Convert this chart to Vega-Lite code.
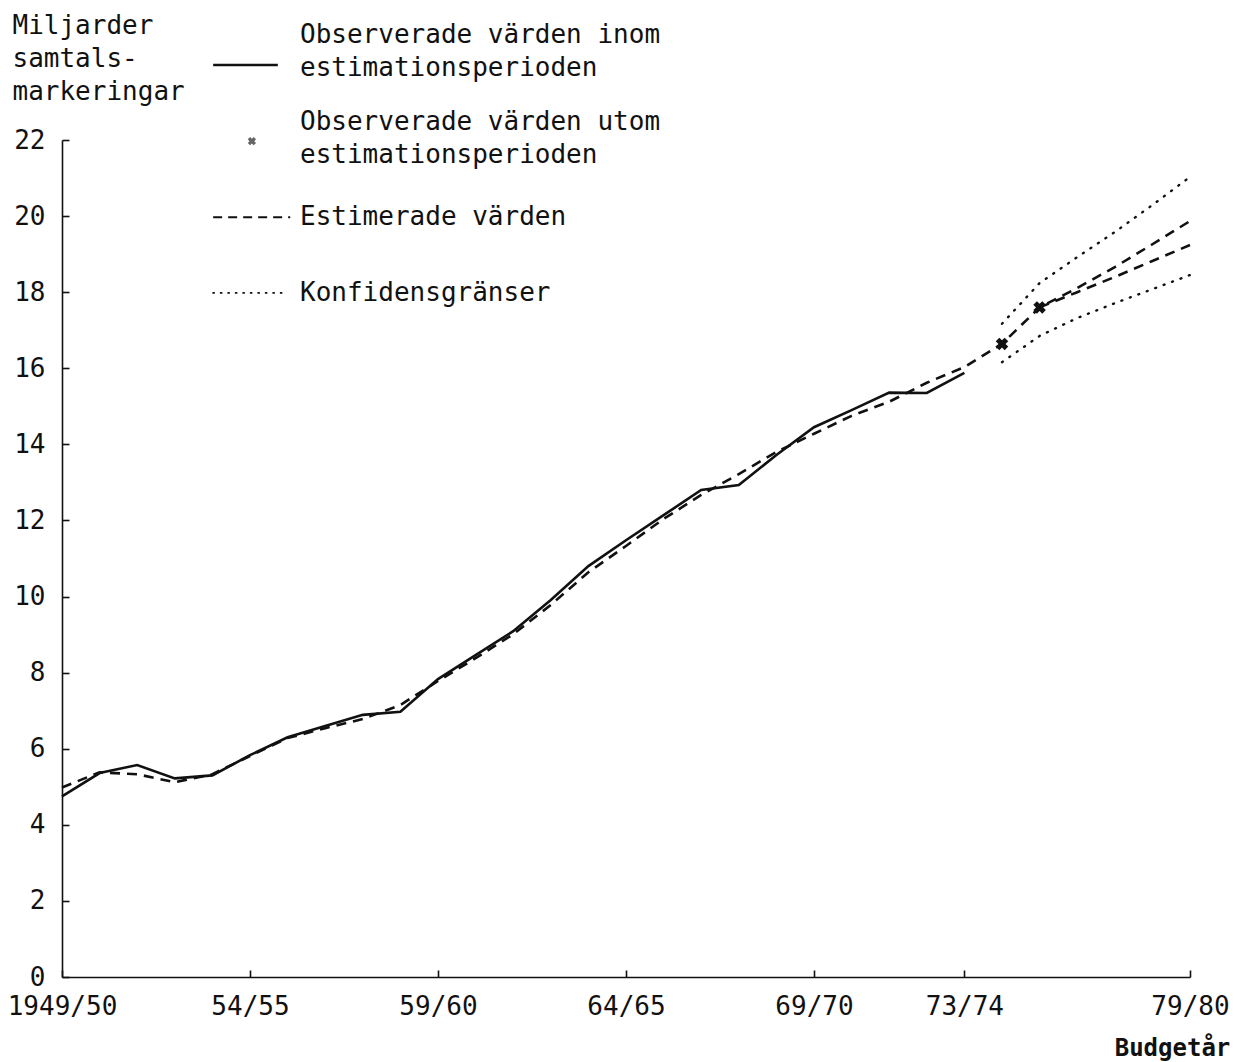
{
  "$schema": "https://vega.github.io/schema/vega-lite/v6.json",
  "width": 1128,
  "height": 837,
  "autosize": {"type": "none"},
  "padding": {"left": 62, "top": 140, "right": 53, "bottom": 85},
  "background": "white",
  "config": {
    "view": {"stroke": null},
    "font": "DejaVu Sans Mono",
    "axis": {"grid": false, "domainColor": "#111", "tickColor": "#111", "labelColor": "#111", "titleColor": "#111", "labelFont": "DejaVu Sans Mono", "titleFont": "DejaVu Sans Mono", "labelFontSize": 26, "titleFontSize": 26, "titleFontWeight": "normal", "domainWidth": 1.6, "tickWidth": 1.6}
  },
  "datasets": {
    "series": [
      {"s": "obs", "i": 0, "v": 4.75}, {"s": "obs", "i": 1, "v": 5.36}, {"s": "obs", "i": 2, "v": 5.57}, {"s": "obs", "i": 3, "v": 5.22}, {"s": "obs", "i": 4, "v": 5.3},
      {"s": "obs", "i": 5, "v": 5.83}, {"s": "obs", "i": 6, "v": 6.3}, {"s": "obs", "i": 7, "v": 6.6}, {"s": "obs", "i": 8, "v": 6.89}, {"s": "obs", "i": 9, "v": 6.97},
      {"s": "obs", "i": 10, "v": 7.83}, {"s": "obs", "i": 11, "v": 8.46}, {"s": "obs", "i": 12, "v": 9.09}, {"s": "obs", "i": 13, "v": 9.91}, {"s": "obs", "i": 14, "v": 10.8},
      {"s": "obs", "i": 15, "v": 11.48}, {"s": "obs", "i": 16, "v": 12.14}, {"s": "obs", "i": 17, "v": 12.8}, {"s": "obs", "i": 18, "v": 12.93}, {"s": "obs", "i": 19, "v": 13.72},
      {"s": "obs", "i": 20, "v": 14.45}, {"s": "obs", "i": 21, "v": 14.9}, {"s": "obs", "i": 22, "v": 15.36}, {"s": "obs", "i": 23, "v": 15.35}, {"s": "obs", "i": 24, "v": 15.88},
      {"s": "est", "i": 0, "v": 4.98}, {"s": "est", "i": 1, "v": 5.38}, {"s": "est", "i": 2, "v": 5.33}, {"s": "est", "i": 3, "v": 5.12}, {"s": "est", "i": 4, "v": 5.33},
      {"s": "est", "i": 5, "v": 5.81}, {"s": "est", "i": 6, "v": 6.28}, {"s": "est", "i": 7, "v": 6.54}, {"s": "est", "i": 8, "v": 6.78}, {"s": "est", "i": 9, "v": 7.15},
      {"s": "est", "i": 10, "v": 7.78}, {"s": "est", "i": 11, "v": 8.38}, {"s": "est", "i": 12, "v": 9.01}, {"s": "est", "i": 13, "v": 9.78}, {"s": "est", "i": 14, "v": 10.64},
      {"s": "est", "i": 15, "v": 11.33}, {"s": "est", "i": 16, "v": 12.04}, {"s": "est", "i": 17, "v": 12.67}, {"s": "est", "i": 18, "v": 13.22}, {"s": "est", "i": 19, "v": 13.8},
      {"s": "est", "i": 20, "v": 14.28}, {"s": "est", "i": 21, "v": 14.75}, {"s": "est", "i": 22, "v": 15.12}, {"s": "est", "i": 23, "v": 15.62}, {"s": "est", "i": 24, "v": 16.03},
      {"s": "est", "i": 25, "v": 16.64}, {"s": "est", "i": 26, "v": 17.6}, {"s": "est", "i": 27, "v": 18.11}, {"s": "est", "i": 28, "v": 18.66}, {"s": "est", "i": 29, "v": 19.26}, {"s": "est", "i": 30, "v": 19.87},
      {"s": "est2", "i": 26, "v": 17.6}, {"s": "est2", "i": 27, "v": 18.0}, {"s": "est2", "i": 28, "v": 18.4}, {"s": "est2", "i": 29, "v": 18.82}, {"s": "est2", "i": 30, "v": 19.24},
      {"s": "hi", "i": 25, "v": 17.17}, {"s": "hi", "i": 26, "v": 18.24}, {"s": "hi", "i": 27, "v": 18.92}, {"s": "hi", "i": 28, "v": 19.58}, {"s": "hi", "i": 29, "v": 20.29}, {"s": "hi", "i": 30, "v": 21.03},
      {"s": "lo", "i": 25, "v": 16.16}, {"s": "lo", "i": 26, "v": 16.85}, {"s": "lo", "i": 27, "v": 17.32}, {"s": "lo", "i": 28, "v": 17.71}, {"s": "lo", "i": 29, "v": 18.08}, {"s": "lo", "i": 30, "v": 18.45},
      {"s": "out", "i": 25, "v": 16.64}, {"s": "out", "i": 26, "v": 17.6}
    ],
    "legendLines": [
      {"k": "obs", "x1": 4.02, "x2": 5.74, "y": 23.97},
      {"k": "est", "x1": 4.02, "x2": 6.07, "y": 19.97},
      {"k": "conf", "x1": 4.02, "x2": 5.9, "y": 17.98}
    ],
    "legendText": [
      {"x": 6.33, "y": 24.76, "t": "Observerade värden inom"},
      {"x": 6.33, "y": 23.89, "t": "estimationsperioden"},
      {"x": 6.33, "y": 22.47, "t": "Observerade värden utom"},
      {"x": 6.33, "y": 21.6, "t": "estimationsperioden"},
      {"x": 6.33, "y": 19.97, "t": "Estimerade värden"},
      {"x": 6.33, "y": 17.98, "t": "Konfidensgränser"}
    ],
    "legendStar": [{"x": 5.05, "y": 21.97}]
  },
  "encoding": {
    "x": {"type": "quantitative"},
    "y": {"type": "quantitative"}
  },
  "layer": [
    {
      "data": {"name": "series"},
      "transform": [{"filter": "datum.s === 'obs'"}],
      "mark": {"type": "line", "color": "#111", "strokeWidth": 2.6},
      "encoding": {
        "x": {"field": "i", "type": "quantitative", "scale": {"domain": [0, 30], "nice": false, "zero": false},
          "axis": {"values": [0, 5, 10, 15, 20, 24, 30], "labelExpr": "{'0':'\u00a01949/50','5':'54/55','10':'59/60','15':'64/65','20':'69/70','24':'73/74','30':'79/80'}[datum.value]", "tickSize": -7, "labelPadding": 23, "labelFlush": false,
            "title": "Budgetår", "titleFontWeight": "bold", "titleFontSize": 24, "titleX": 1110, "titleY": 78, "titleAlign": "center", "titleBaseline": "alphabetic"}},
        "y": {"field": "v", "type": "quantitative", "scale": {"domain": [0, 22], "nice": false},
          "axis": {"values": [0, 2, 4, 6, 8, 10, 12, 14, 16, 18, 20, 22], "tickSize": -7, "labelPadding": 24,
            "title": ["Miljarder", "samtals-", "markeringar"], "titleAngle": 0, "titleAlign": "left", "titleBaseline": "top", "titleX": -50, "titleY": -128, "titleLineHeight": 33}}
      }
    },
    {
      "data": {"name": "series"},
      "transform": [{"filter": "datum.s === 'est' || datum.s === 'est2'"}],
      "mark": {"type": "line", "color": "#111", "strokeWidth": 2.6, "strokeDash": [10, 7]},
      "encoding": {
        "x": {"field": "i", "type": "quantitative"},
        "y": {"field": "v", "type": "quantitative"},
        "detail": {"field": "s"}
      }
    },
    {
      "data": {"name": "series"},
      "transform": [{"filter": "datum.s === 'hi' || datum.s === 'lo'"}],
      "mark": {"type": "line", "color": "#111", "strokeWidth": 2.4, "strokeDash": [1, 8], "strokeCap": "round"},
      "encoding": {
        "x": {"field": "i", "type": "quantitative"},
        "y": {"field": "v", "type": "quantitative"},
        "detail": {"field": "s"}
      }
    },
    {
      "data": {"name": "series"},
      "transform": [{"filter": "datum.s === 'out'"}],
      "mark": {"type": "point", "shape": "cross", "angle": 45, "filled": true, "color": "#111", "size": 160, "opacity": 1},
      "encoding": {
        "x": {"field": "i", "type": "quantitative"},
        "y": {"field": "v", "type": "quantitative"}
      }
    },
    {
      "data": {"name": "legendLines"},
      "transform": [{"filter": "datum.k === 'obs'"}],
      "mark": {"type": "rule", "color": "#111", "strokeWidth": 2.4},
      "encoding": {
        "x": {"field": "x1", "type": "quantitative"},
        "x2": {"field": "x2"},
        "y": {"field": "y", "type": "quantitative"}
      }
    },
    {
      "data": {"name": "legendLines"},
      "transform": [{"filter": "datum.k === 'est'"}],
      "mark": {"type": "rule", "color": "#111", "strokeWidth": 2.2, "strokeDash": [9, 6]},
      "encoding": {
        "x": {"field": "x1", "type": "quantitative"},
        "x2": {"field": "x2"},
        "y": {"field": "y", "type": "quantitative"}
      }
    },
    {
      "data": {"name": "legendLines"},
      "transform": [{"filter": "datum.k === 'conf'"}],
      "mark": {"type": "rule", "color": "#111", "strokeWidth": 1.8, "strokeDash": [1, 6.5], "strokeCap": "round"},
      "encoding": {
        "x": {"field": "x1", "type": "quantitative"},
        "x2": {"field": "x2"},
        "y": {"field": "y", "type": "quantitative"}
      }
    },
    {
      "data": {"name": "legendStar"},
      "mark": {"type": "point", "shape": "cross", "angle": 45, "filled": true, "color": "#666", "size": 70, "opacity": 1},
      "encoding": {
        "x": {"field": "x", "type": "quantitative"},
        "y": {"field": "y", "type": "quantitative"}
      }
    },
    {
      "data": {"name": "legendText"},
      "mark": {"type": "text", "align": "left", "baseline": "middle", "font": "DejaVu Sans Mono", "fontSize": 26, "color": "#111"},
      "encoding": {
        "x": {"field": "x", "type": "quantitative"},
        "y": {"field": "y", "type": "quantitative"},
        "text": {"field": "t"}
      }
    }
  ]
}
